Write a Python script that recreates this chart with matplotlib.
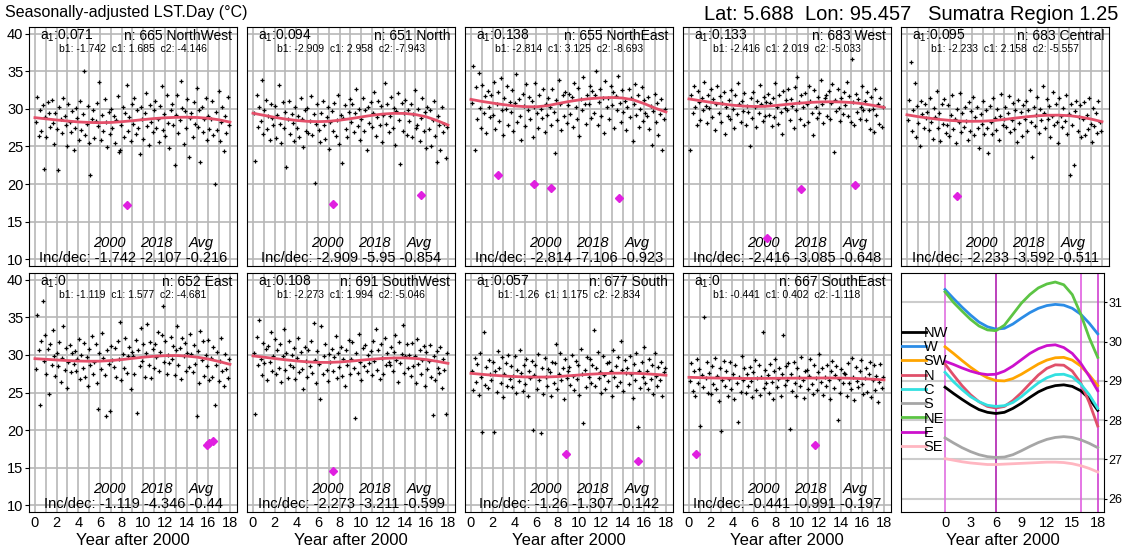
import numpy as np
import matplotlib
matplotlib.use('Agg')
import matplotlib.pyplot as plt
from matplotlib.lines import Line2D

plt.rcParams['font.family'] = ['Liberation Sans', 'DejaVu Sans']
plt.rcParams['mathtext.fontset'] = 'custom'
plt.rcParams['mathtext.rm'] = 'Liberation Sans'
plt.rcParams['mathtext.it'] = 'Liberation Sans:italic'

# smooth fitted curves (value at each year after 2000)
YEARS = list(range(19))
CURVE_NW = [28.84, 28.68, 28.53, 28.39, 28.27, 28.2, 28.17, 28.2, 28.3, 28.43, 28.58, 28.72, 28.82, 28.88, 28.9, 28.86, 28.75, 28.55, 28.25]
CURVE_W = [31.33, 31.1, 30.88, 30.68, 30.5, 30.38, 30.32, 30.34, 30.45, 30.6, 30.74, 30.85, 30.92, 30.95, 30.93, 30.85, 30.7, 30.47, 30.2]
CURVE_SW = [29.87, 29.7, 29.52, 29.35, 29.2, 29.08, 29.01, 29.0, 29.06, 29.17, 29.3, 29.43, 29.53, 29.59, 29.6, 29.53, 29.38, 29.15, 28.88]
CURVE_N = [29.43, 29.15, 28.88, 28.65, 28.47, 28.35, 28.31, 28.35, 28.5, 28.7, 28.93, 29.15, 29.32, 29.41, 29.4, 29.25, 28.95, 28.45, 27.85]
CURVE_C = [29.22, 28.98, 28.78, 28.6, 28.47, 28.38, 28.35, 28.37, 28.45, 28.6, 28.78, 28.95, 29.08, 29.16, 29.17, 29.1, 28.92, 28.65, 28.3]
CURVE_S = [27.55, 27.42, 27.3, 27.2, 27.12, 27.07, 27.05, 27.06, 27.12, 27.22, 27.33, 27.43, 27.51, 27.56, 27.58, 27.56, 27.5, 27.41, 27.3]
CURVE_NE = [31.27, 31.0, 30.78, 30.57, 30.4, 30.3, 30.28, 30.42, 30.7, 30.98, 31.2, 31.37, 31.47, 31.52, 31.45, 31.2, 30.7, 30.1, 29.6]
CURVE_E = [29.5, 29.42, 29.33, 29.25, 29.19, 29.16, 29.17, 29.25, 29.38, 29.54, 29.7, 29.82, 29.9, 29.92, 29.85, 29.7, 29.45, 29.12, 28.75]
CURVE_SE = [27.02, 26.98, 26.94, 26.91, 26.89, 26.87, 26.87, 26.88, 26.89, 26.9, 26.91, 26.92, 26.93, 26.93, 26.92, 26.89, 26.84, 26.77, 26.68]

OBS_NW = [28.2, 31.6, 26.4, 29.8, 27.1, 30.5, 22.0, 28.9, 26.2, 30.9, 29.4, 27.6, 31.2, 28.1, 25.3,
          29.5, 27.3, 21.9, 30.2, 28.6, 26.8, 31.4, 29.0, 27.9, 25.1, 30.6, 28.3, 26.9, 29.7, 24.6,
          27.4, 30.1, 28.8, 25.8, 31.0, 27.2, 29.3, 35.0, 26.5, 28.0, 30.4, 25.5, 21.2, 28.7, 29.9,
          26.1, 28.4, 30.8, 27.7, 33.6, 25.9, 29.2, 27.0, 31.3, 28.2, 24.9, 29.6, 26.7, 30.0, 27.5,
          29.1, 25.4, 28.5, 31.7, 24.3, 24.6, 27.8, 30.3, 26.3, 29.4, 33.2, 27.1, 28.9, 25.7, 30.7,
          28.0, 31.5, 26.6, 29.9, 27.4, 24.0, 30.2, 28.6, 26.0, 29.5, 32.1, 27.7, 25.2, 30.5, 28.3,
          26.9, 29.8, 31.1, 27.5, 28.7, 25.6, 30.4, 33.1, 27.2, 29.3, 26.4, 31.8, 28.1, 24.8, 29.9,
          30.6, 27.9, 22.5, 29.2, 31.9, 26.8, 28.5, 33.7, 30.1, 25.3, 29.7, 27.4, 31.3, 23.6, 28.8,
          29.4, 26.2, 30.9, 28.0, 32.8, 27.6, 29.9, 22.9, 30.3, 26.9, 28.6, 31.5, 25.8, 29.1, 27.3,
          28.7, 31.0, 26.5, 20.0, 29.6, 27.2, 32.4, 25.7, 28.3, 30.2, 24.4, 29.0, 26.8, 31.6, 27.9]
OBS_N = [29.5, 23.1, 31.8, 27.6, 30.2, 28.4, 33.9, 26.7, 29.9, 31.2, 27.3, 29.0, 25.8, 30.6, 28.8,
         27.9, 30.4, 26.1, 29.2, 33.2, 28.0, 25.4, 30.9, 27.5, 29.6, 22.3, 28.7, 31.1, 26.6, 29.3,
         28.1, 25.7, 30.3, 27.4, 29.0, 26.3, 31.4, 28.6, 24.9, 29.8, 27.0, 30.1, 26.8, 28.4, 31.7,
         26.5, 29.3, 20.1, 28.0, 30.6, 27.2, 25.6, 29.5, 31.0, 27.8, 26.0, 28.9, 30.2, 24.7, 28.2,
         29.7, 27.1, 30.8, 26.4, 28.5, 31.9, 25.3, 29.2, 22.8, 28.8, 30.5, 27.3, 26.2, 29.6, 31.3,
         28.3, 30.7, 26.9, 29.4, 32.6, 27.7, 30.0, 25.9, 28.6, 31.5, 27.0, 29.8, 24.5, 30.3, 28.1,
         30.9, 27.6, 29.5, 32.3, 26.4, 28.9, 31.0, 27.8, 30.4, 25.6, 29.2, 33.4, 28.0, 30.6, 26.9,
         29.0, 31.6, 27.4, 30.1, 25.2, 29.7, 32.1, 28.5, 22.7, 30.8, 27.1, 29.4, 31.2, 26.5, 29.9,
         28.4, 30.7, 26.2, 29.3, 32.5, 27.5, 27.9, 30.0, 25.7, 28.8, 31.4, 27.0, 29.6, 24.8, 30.3,
         27.3, 29.8, 25.1, 28.5, 31.0, 26.4, 22.9, 29.1, 27.8, 24.6, 30.2, 26.9, 28.0, 23.5, 27.6]
OBS_NE = [30.8, 35.7, 24.6, 32.9, 28.7, 34.8, 30.1, 27.4, 33.2, 29.5, 31.7, 26.8, 32.4, 30.3, 28.9,
          31.9, 29.2, 33.6, 27.3, 30.7, 32.2, 28.4, 34.1, 29.8, 26.5, 31.4, 30.0, 33.0, 27.9, 30.9,
          29.6, 32.5, 27.0, 30.8, 34.6, 28.2, 31.3, 29.1, 25.9, 32.0, 30.4, 27.7, 33.3, 29.9, 31.6,
          28.6, 31.1, 26.3, 30.2, 33.5, 29.4, 27.5, 31.8, 30.0, 28.8, 32.7, 26.9, 30.6, 29.2, 31.5,
          30.3, 27.8, 32.6, 29.6, 24.2, 31.2, 28.5, 33.9, 30.7, 27.2, 31.9, 29.0, 32.3, 28.1, 30.5,
          32.0, 29.3, 31.6, 27.6, 33.4, 30.2, 28.7, 32.8, 26.4, 31.3, 29.8, 34.2, 30.6, 28.0, 31.9,
          30.7, 33.1, 28.8, 32.4, 29.5, 31.8, 35.0, 27.9, 30.9, 32.6, 29.1, 31.5, 26.8, 33.7, 30.2,
          31.4, 28.6, 33.0, 30.5, 32.2, 27.4, 31.7, 29.9, 34.4, 30.8, 28.3, 32.5, 29.6, 31.1, 27.2,
          30.2, 32.7, 28.9, 31.4, 25.7, 30.6, 33.3, 29.2, 31.9, 27.6, 30.0, 32.9, 28.4, 31.2, 29.5,
          29.1, 31.6, 27.3, 30.4, 25.2, 29.7, 32.0, 28.2, 30.8, 26.5, 29.3, 31.3, 24.5, 28.6, 30.0]
OBS_W = [24.6, 31.8, 29.4, 33.1, 30.2, 27.8, 32.4, 30.9, 28.5, 31.5, 29.8, 33.6, 30.4, 28.1, 31.9,
         30.1, 32.7, 28.9, 31.3, 27.2, 30.6, 33.0, 29.5, 31.7, 28.3, 30.8, 32.2, 26.7, 30.3, 29.1,
         31.2, 28.6, 32.5, 30.0, 27.5, 31.8, 29.3, 33.4, 30.6, 28.2, 31.0, 29.7, 32.1, 27.9, 30.4,
         29.6, 25.0, 31.4, 28.8, 32.3, 30.2, 27.6, 31.1, 29.4, 33.2, 30.7, 28.4, 31.6, 29.0, 30.9,
         32.0, 29.2, 30.8, 27.7, 31.5, 28.9, 33.5, 30.3, 28.0, 31.9, 29.6, 26.6, 32.4, 30.1, 31.2,
         29.9, 32.6, 28.5, 31.3, 30.4, 27.4, 32.9, 29.8, 34.3, 30.9, 28.7, 31.8, 30.2, 27.9, 32.1,
         30.6, 28.3, 33.1, 31.0, 29.4, 26.5, 32.5, 30.3, 28.8, 31.6, 29.5, 33.8, 30.7, 28.1, 31.4,
         31.9, 29.0, 32.4, 28.6, 30.8, 33.3, 24.3, 31.2, 29.7, 32.7, 30.1, 28.4, 31.5, 29.3, 32.2,
         30.5, 33.6, 29.1, 31.7, 28.2, 36.6, 30.9, 27.8, 32.0, 29.6, 31.3, 28.7, 30.2, 33.0, 29.8,
         31.1, 28.5, 32.3, 29.9, 27.3, 31.6, 30.0, 26.9, 32.6, 29.2, 30.7, 28.0, 31.4, 27.6, 30.3]
OBS_C = [28.5, 31.2, 36.2, 27.0, 29.8, 33.4, 26.3, 30.4, 28.1, 25.1, 31.0, 29.3, 27.4, 30.7, 28.8,
         29.6, 27.2, 31.5, 28.3, 26.0, 30.1, 28.9, 32.4, 27.5, 29.4, 25.7, 30.6, 28.0, 31.3, 26.8,
         27.8, 30.5, 26.4, 29.2, 31.8, 27.3, 28.7, 25.5, 30.0, 28.2, 32.1, 26.9, 29.5, 27.6, 30.3,
         28.4, 25.9, 30.9, 27.1, 29.7, 31.6, 26.5, 28.9, 30.2, 27.4, 24.8, 29.3, 28.0, 31.1, 26.7,
         29.9, 27.5, 24.1, 30.4, 28.3, 26.6, 31.4, 28.8, 27.2, 30.0, 25.8, 29.1, 32.0, 27.8, 28.6,
         30.2, 27.6, 29.4, 31.7, 26.9, 28.5, 30.8, 27.3, 29.9, 25.6, 31.2, 28.1, 29.6, 26.4, 30.5,
         28.7, 31.0, 27.1, 29.8, 32.5, 28.3, 23.6, 30.3, 27.7, 29.2, 31.6, 26.8, 30.0, 28.5, 33.0,
         29.5, 27.4, 31.3, 28.6, 30.4, 26.3, 29.1, 32.2, 27.9, 30.7, 28.2, 25.4, 31.5, 29.0, 27.6,
         30.1, 28.4, 31.8, 26.7, 29.3, 21.2, 30.6, 27.8, 22.6, 29.7, 31.1, 27.0, 28.9, 30.5, 26.2,
         28.6, 30.9, 26.5, 29.2, 27.3, 31.4, 28.0, 25.6, 30.1, 27.7, 29.5, 26.8, 31.0, 28.3, 27.1]
OBS_E = [28.1, 35.3, 30.6, 23.4, 31.9, 37.2, 29.2, 32.6, 27.4, 30.8, 24.8, 31.5, 28.7, 33.3, 29.9,
         27.2, 30.3, 28.5, 31.7, 26.4, 29.6, 33.9, 28.0, 30.9, 25.6, 29.1, 31.3, 27.7, 30.2, 28.8,
         30.5, 27.9, 29.4, 32.1, 26.8, 30.0, 28.3, 31.6, 27.1, 29.7, 25.9, 30.8, 28.6, 32.5, 27.5,
         29.0, 31.4, 26.2, 22.8, 30.3, 28.1, 32.9, 29.6, 27.3, 21.9, 30.7, 28.8, 22.6, 31.2, 29.3,
         28.4, 30.9, 27.0, 31.8, 29.5, 34.4, 26.6, 30.1, 28.2, 32.3, 27.6, 29.8, 31.1, 25.5, 30.4,
         29.9, 27.4, 32.0, 22.3, 30.6, 28.5, 33.6, 29.2, 31.4, 27.1, 30.2, 34.1, 28.7, 31.7, 26.9,
         30.8, 28.3, 31.5, 29.7, 33.0, 27.8, 30.4, 32.7, 36.5, 29.1, 31.9, 27.5, 30.0, 28.9, 32.4,
         29.4, 31.2, 27.3, 30.6, 33.8, 28.6, 30.9, 26.8, 32.2, 29.8, 31.6, 27.9, 30.3, 28.4, 32.8,
         30.1, 27.7, 31.3, 28.8, 21.9, 30.5, 26.2, 33.2, 29.3, 31.8, 27.2, 30.0, 28.5, 32.0, 26.7,
         29.6, 27.0, 31.0, 23.4, 28.7, 30.4, 26.5, 29.2, 32.3, 27.8, 25.9, 30.1, 28.1, 26.9, 29.5]
OBS_SW = [30.2, 22.1, 32.4, 28.6, 34.6, 29.5, 27.3, 31.6, 28.9, 30.8, 26.7, 31.2, 29.0, 33.0, 27.9,
          29.8, 32.1, 27.5, 30.6, 28.2, 31.5, 26.4, 29.9, 33.4, 28.0, 30.3, 26.9, 31.8, 28.7, 30.0,
          28.4, 30.9, 26.8, 29.6, 32.2, 27.7, 30.4, 28.1, 25.5, 31.0, 29.2, 27.0, 30.7, 28.5, 31.9,
          27.6, 34.2, 29.3, 26.2, 30.5, 28.8, 24.2, 33.9, 27.4, 29.8, 31.4, 28.0, 26.5, 30.1, 29.0,
          30.8, 27.9, 29.7, 32.5, 26.9, 30.2, 28.4, 31.1, 27.2, 29.5, 25.8, 30.6, 28.6, 32.0, 27.5,
          29.4, 31.7, 28.2, 21.6, 30.3, 27.6, 32.8, 29.1, 26.6, 30.9, 28.5, 31.3, 27.8, 30.0, 28.9,
          30.5, 27.3, 31.9, 29.2, 33.5, 28.0, 30.7, 26.8, 31.4, 29.6, 27.5, 32.3, 28.7, 30.2, 29.0,
          28.6, 31.1, 27.8, 30.4, 32.6, 29.3, 26.4, 31.7, 28.9, 30.1, 34.0, 27.6, 29.8, 31.5, 28.2,
          30.0, 27.2, 31.6, 28.5, 29.9, 26.3, 32.1, 28.8, 30.6, 27.4, 29.3, 31.2, 25.9, 30.4, 28.1,
          29.2, 31.3, 27.0, 22.0, 29.8, 26.7, 30.5, 28.3, 27.6, 31.0, 25.6, 29.4, 28.0, 22.1, 30.2]
OBS_S = [27.9, 25.3, 29.6, 26.4, 28.8, 24.7, 30.2, 27.1, 19.8, 33.1, 26.0, 28.4, 25.6, 29.3, 27.5,
         26.6, 29.0, 19.7, 27.8, 25.1, 30.5, 28.2, 26.3, 29.7, 24.4, 27.4, 28.9, 25.9, 30.0, 26.8,
         28.5, 25.7, 27.2, 29.9, 24.9, 28.0, 26.5, 30.7, 27.6, 25.2, 28.7, 26.1, 29.4, 24.6, 27.9,
         26.9, 29.2, 20.0, 27.3, 28.6, 25.5, 30.1, 26.7, 19.6, 28.3, 24.8, 29.6, 27.0, 25.8, 28.1,
         27.7, 24.5, 29.1, 26.2, 28.9, 31.4, 25.4, 27.5, 30.3, 26.6, 28.2, 24.2, 29.5, 26.9, 27.8,
         28.4, 26.0, 30.0, 27.2, 25.3, 29.2, 26.8, 28.6, 24.7, 30.8, 27.4, 20.9, 28.0, 25.7, 29.7,
         27.1, 29.4, 26.3, 28.7, 33.3, 25.8, 28.2, 30.4, 26.9, 27.7, 24.9, 29.8, 27.3, 25.5, 28.9,
         26.5, 29.1, 27.9, 24.6, 30.6, 27.0, 28.5, 25.9, 29.7, 26.4, 31.8, 28.0, 25.2, 29.3, 27.6,
         28.3, 26.1, 29.9, 27.4, 24.3, 28.8, 26.7, 30.2, 20.4, 27.8, 25.6, 29.0, 27.1, 31.0, 26.2,
         27.9, 25.4, 29.5, 26.8, 28.6, 24.8, 30.3, 27.2, 25.9, 28.4, 26.6, 29.1, 24.5, 27.7, 28.2]
OBS_SE = [26.5, 28.9, 25.2, 27.8, 24.6, 29.4, 26.2, 28.1, 20.6, 27.3, 25.7, 35.0, 26.9, 29.0, 25.0,
          27.6, 24.8, 28.5, 26.1, 29.6, 25.4, 27.2, 23.9, 28.3, 19.9, 26.6, 29.2, 25.8, 27.9, 24.5,
          26.8, 29.1, 25.5, 27.5, 24.2, 28.7, 26.3, 21.1, 27.0, 25.1, 29.8, 26.7, 28.2, 24.9, 27.4,
          25.9, 28.4, 26.5, 24.4, 27.7, 29.3, 25.3, 26.9, 28.6, 24.7, 27.1, 33.0, 25.6, 28.0, 26.2,
          27.3, 25.0, 28.8, 26.4, 24.1, 27.9, 29.5, 25.7, 26.8, 28.3, 24.6, 27.5, 32.6, 26.0, 28.5,
          26.6, 28.9, 20.1, 27.4, 25.2, 29.1, 26.3, 24.5, 28.2, 27.0, 25.8, 29.7, 26.7, 24.3, 27.8,
          28.0, 25.5, 27.2, 29.4, 26.1, 24.8, 28.6, 26.9, 25.3, 27.7, 30.1, 26.4, 28.3, 24.7, 27.1,
          25.9, 28.7, 26.6, 24.2, 27.9, 29.2, 25.6, 27.3, 28.5, 21.4, 26.8, 24.9, 28.1, 26.3, 27.6,
          27.4, 24.6, 28.9, 26.2, 25.4, 29.6, 27.0, 24.0, 28.4, 26.5, 25.7, 27.8, 29.3, 26.1, 24.8,
          26.9, 28.2, 25.1, 27.5, 29.0, 24.4, 26.7, 28.6, 25.3, 27.2, 23.8, 26.4, 28.8, 25.6, 27.0]

# flagged observations (magenta), (year, value)
FLAG_NW = [(8.5, 17.2)]
FLAG_N = [(7.4, 17.4), (15.5, 18.6)]
FLAG_NE = [(2.5, 21.2), (5.8, 20.0), (7.4, 19.5), (13.7, 18.2)]
FLAG_W = [(7.2, 12.8), (10.3, 19.4), (15.3, 19.9)]
FLAG_C = [(4.6, 18.4)]
FLAG_E = [(15.9, 18.0), (16.1, 18.3), (16.4, 18.6)]
FLAG_SW = [(7.4, 14.5)]
FLAG_S = [(8.8, 16.8), (15.4, 15.9)]
FLAG_SE = [(0.65, 16.8), (11.6, 18.0)]

REGION_NAMES = ['NorthWest', 'North', 'NorthEast', 'West', 'Central',
                'East', 'SouthWest', 'South', 'SouthEast']
A1 = [0.071, 0.094, 0.138, 0.133, 0.095, 0, 0.108, 0.057, 0]
N_OBS = [665, 651, 655, 683, 683, 652, 691, 677, 667]
B1 = [-1.742, -2.909, -2.814, -2.416, -2.233, -1.119, -2.273, -1.26, -0.441]
C1 = [1.685, 2.958, 3.125, 2.019, 2.158, 1.577, 1.994, 1.175, 0.402]
C2 = [-4.146, -7.943, -8.693, -5.033, -5.557, -4.681, -5.046, -2.834, -1.118]
INC_2000 = [-1.742, -2.909, -2.814, -2.416, -2.233, -1.119, -2.273, -1.26, -0.441]
INC_2018 = [-2.107, -5.95, -7.106, -3.085, -3.592, -4.346, -3.211, -1.307, -0.991]
INC_AVG = [-0.216, -0.854, -0.923, -0.648, -0.511, -0.44, -0.599, -0.142, -0.197]

# summary panel
LEGEND_LABELS = ['NW', 'W', 'SW', 'N', 'C', 'S', 'NE', 'E', 'SE']
LEGEND_CURVES = [CURVE_NW, CURVE_W, CURVE_SW, CURVE_N, CURVE_C, CURVE_S, CURVE_NE, CURVE_E, CURVE_SE]
LEGEND_COLORS = ['#000000', '#2b8ce6', '#ffa500', '#e0506a', '#33e0e0',
                 '#a6a6a6', '#5cc444', '#cc11cc', '#ffb6c1']
BREAK_YEARS = [0, 6, 16, 18]
BREAK_COLORS = ['#e070e0', '#b020b0', '#e060e0', '#d040d0']

panel_obs = [OBS_NW, OBS_N, OBS_NE, OBS_W, OBS_C, OBS_E, OBS_SW, OBS_S, OBS_SE]
panel_curves = [CURVE_NW, CURVE_N, CURVE_NE, CURVE_W, CURVE_C, CURVE_E, CURVE_SW, CURVE_S, CURVE_SE]
panel_flags = [FLAG_NW, FLAG_N, FLAG_NE, FLAG_W, FLAG_C, FLAG_E, FLAG_SW, FLAG_S, FLAG_SE]

W, H = 1123, 550
fig = plt.figure(figsize=(W / 100, H / 100), dpi=100)

col_left = [29, 247, 465, 683, 901]
row_top = [27, 273]
pw, ph = 208, 239

GRID_C = '#b8b8b8'


def axes_at(left, top, width=pw):
    return fig.add_axes([left / W, 1 - (top + ph) / H, width / W, ph / H])


for i in range(9):
    r, c = divmod(i, 5)
    ax = axes_at(col_left[c], row_top[r])
    t = np.linspace(0.1, 17.9, len(panel_obs[i]))
    ax.plot(t, panel_obs[i], ls='none', marker='+', ms=3.2, mew=0.9, color='black', zorder=3)
    ax.plot(YEARS, panel_curves[i], color='#e4506a', lw=2, zorder=4)
    fx = [p[0] for p in panel_flags[i]]
    fy = [p[1] for p in panel_flags[i]]
    ax.plot(fx, fy, ls='none', marker='D', ms=4, color='#e020e0', zorder=5)

    ax.set_xlim(-0.55, 18.65)
    ax.set_ylim(9.1, 40.9)
    ax.set_xticks(range(0, 19, 2))
    ax.set_xticks(range(1, 19, 2), minor=True)
    ax.set_yticks(range(10, 41, 5))
    ax.grid(True, which='both', axis='x', color=GRID_C, lw=1.2)
    ax.grid(True, which='major', axis='y', color=GRID_C, lw=1.2)
    ax.set_axisbelow(True)
    ax.tick_params(axis='x', which='both', length=0, labelsize=10.5, pad=3)
    ax.tick_params(axis='y', length=3, labelsize=10.5, pad=1)
    if c != 0:
        ax.tick_params(axis='y', length=0, labelleft=False)
    if r == 0:
        ax.tick_params(axis='x', labelbottom=False)
    else:
        ax.set_xlabel('Year after 2000', fontsize=12, labelpad=2)

    ax.text(0.053, 0.962, r'a$_1$:' + f'{A1[i]:g}', transform=ax.transAxes,
            ha='left', va='center', fontsize=10)
    ax.text(0.976, 0.962, f'n: {N_OBS[i]} {REGION_NAMES[i]}', transform=ax.transAxes,
            ha='right', va='center', fontsize=10)
    ax.text(0.5, 0.91, f'b1: {B1[i]:g}  c1: {C1[i]:g}  c2: {C2[i]:g}',
            transform=ax.transAxes, ha='center', va='center', fontsize=7.5)
    for xx, lab in zip([0.385, 0.61, 0.83], ['2000', '2018', 'Avg']):
        ax.text(xx, 0.097, lab, transform=ax.transAxes, ha='center', va='center',
                fontsize=10.5, style='italic')
    ax.text(0.5, 0.034, f'Inc/dec: {INC_2000[i]:g} {INC_2018[i]:g} {INC_AVG[i]:g}',
            transform=ax.transAxes, ha='center', va='center', fontsize=10.5)

# summary panel
ax = axes_at(col_left[4], row_top[1], width=203)
for xb, cb in zip(BREAK_YEARS, BREAK_COLORS):
    ax.axvline(xb, color=cb, lw=1.2, zorder=1)
handles = []
for lab, cur, col in zip(LEGEND_LABELS, LEGEND_CURVES, LEGEND_COLORS):
    ax.plot(YEARS, cur, color=col, lw=2, zorder=3)
    handles.append(Line2D([], [], color=col, lw=2))
ax.set_xlim(-5.19, 18.74)
ax.set_ylim(25.66, 31.75)
ax.set_xticks(range(0, 19, 3))
ax.set_yticks(range(26, 32))
ax.grid(True, axis='y', color='#cccccc', lw=1.5)
ax.set_axisbelow(True)
ax.yaxis.tick_right()
ax.tick_params(axis='y', length=2, labelsize=9, pad=1)
ax.tick_params(axis='x', length=0, labelsize=10.5, pad=3)
ax.set_xlabel('Year after 2000', fontsize=12, labelpad=2)
ax.legend(handles, LEGEND_LABELS, loc='upper left', bbox_to_anchor=(0.0, 0.785),
          frameon=False, fontsize=10.5, handlelength=1.6, handletextpad=-0.15,
          labelspacing=0.02, borderaxespad=0, borderpad=0.1)

fig.text(5 / W, 1 - 13 / H, 'Seasonally-adjusted LST.Day (°C)', fontsize=11.5,
         ha='left', va='center')
fig.text(1118 / W, 1 - 14 / H, 'Lat: 5.688  Lon: 95.457   Sumatra Region 1.25',
         fontsize=14.5, ha='right', va='center')

fig.savefig('out.png', dpi=100)
